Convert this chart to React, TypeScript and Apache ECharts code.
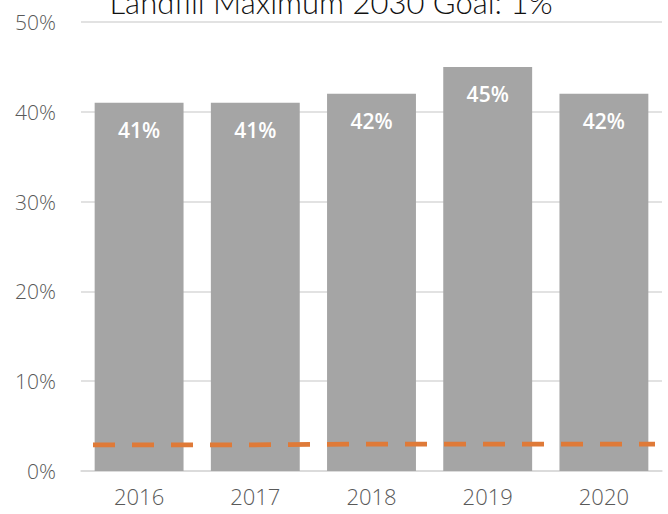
import React, { useEffect, useRef } from "react";
import * as echarts from "echarts";

const categories = ["2016", "2017", "2018", "2019", "2020"];
const landfillShare = [41, 41, 42, 45, 42];
const goalLine = [2.9, 2.9, 3.0, 3.0, 3.0];
const yTicks = [0, 10, 20, 30, 40, 50];
const titleText = "Landfill Maximum 2030 Goal: 1%";

export default function App() {
  const ref = useRef<HTMLDivElement>(null);
  useEffect(() => {
    if (!ref.current) return;
    const chart = echarts.init(ref.current, null, { renderer: "svg" });
    const top = 22;
    const bottom = 43;
    chart.setOption({
      animation: false,
      backgroundColor: "#ffffff",
      graphic: [
        {
          type: "text",
          x: 331,
          y: 17,
          style: {
            text: titleText,
            font: "300 31px Lato",
            fill: "#111111",
            align: "center",
            verticalAlign: "bottom",
          },
        },
      ],
      grid: [
        { left: 81, right: 6, top, bottom },
        { left: 93, right: 13, top, bottom },
      ],
      xAxis: [
        {
          type: "category",
          data: categories,
          gridIndex: 0,
          axisLine: { show: true, lineStyle: { color: "#D9D9D9", width: 1.5 } },
          axisTick: { show: false },
          axisLabel: {
            color: "#595959",
            fontSize: 22,
            fontWeight: 300,
            fontFamily: "Open Sans",
            margin: 14,
          },
        },
        {
          type: "category",
          data: categories,
          gridIndex: 1,
          boundaryGap: false,
          show: false,
        },
      ],
      yAxis: [
        {
          type: "value",
          gridIndex: 0,
          min: yTicks[0],
          max: yTicks[yTicks.length - 1],
          interval: 10,
          axisLine: { show: false },
          axisTick: { show: false },
          splitLine: { lineStyle: { color: "#D9D9D9", width: 1.5 } },
          axisLabel: {
            formatter: "{value}%",
            color: "#595959",
            fontSize: 21,
            fontWeight: 300,
            fontFamily: "Open Sans",
            margin: 25,
          },
        },
        {
          type: "value",
          gridIndex: 1,
          min: yTicks[0],
          max: yTicks[yTicks.length - 1],
          show: false,
        },
      ],
      series: [
        {
          type: "bar",
          data: landfillShare,
          xAxisIndex: 0,
          yAxisIndex: 0,
          barCategoryGap: "23.5%",
          itemStyle: { color: "#A5A5A5" },
          label: {
            show: true,
            position: "insideTop",
            distance: 17,
            formatter: "{c}%",
            color: "#ffffff",
            fontSize: 21,
            fontFamily: "Open Sans",
            fontWeight: 600,
          },
        },
        {
          type: "line",
          data: goalLine,
          xAxisIndex: 1,
          yAxisIndex: 1,
          symbol: "none",
          lineStyle: { color: "#DF7A38", width: 4.7, type: [22, 17] },
        },
      ],
    });
    return () => chart.dispose();
  }, []);
  return (
    <div
      ref={ref}
      style={{ position: "fixed", left: 0, top: 0, width: 668, height: 514 }}
    />
  );
}
